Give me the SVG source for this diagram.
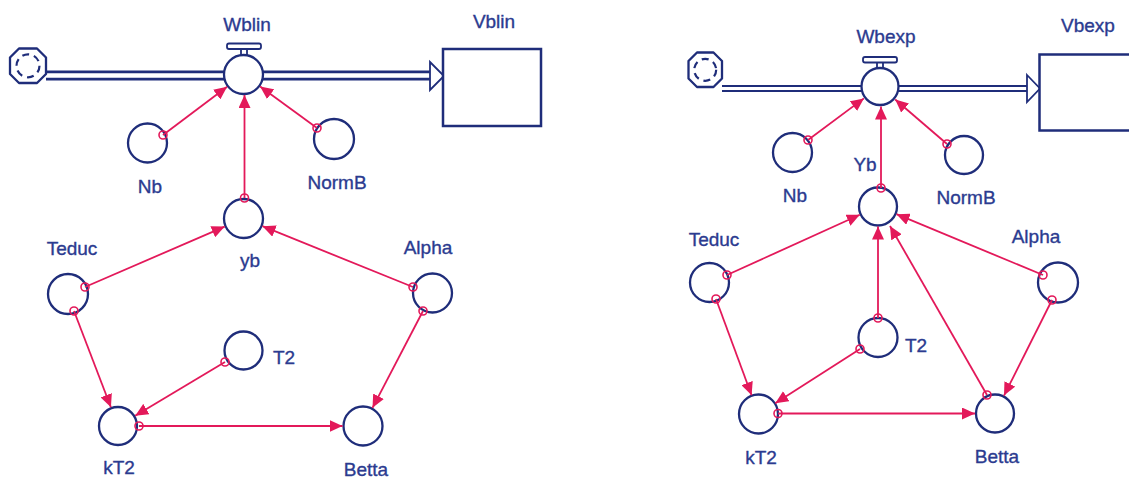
<svg xmlns="http://www.w3.org/2000/svg" width="1129" height="480" viewBox="0 0 1129 480">
<style>
.n{fill:#fff;stroke:#1f2d7a;stroke-width:2.3}
.t{font-family:"Liberation Sans",Arial,sans-serif;font-size:19px;fill:#2b3b90;stroke:#2b3b90;stroke-width:0.35;text-anchor:middle}
.tl{text-anchor:start}
.l{fill:none;stroke:#e3195a;stroke-width:1.8}
.o{fill:none;stroke:#e3195a;stroke-width:1.6}
.po{fill:none;stroke:#1f2d7a}
.pi{fill:none;stroke:#fff}
.bx{fill:#fff;stroke:#1f2d7a;stroke-width:2.5}
.hd{fill:#fff;stroke:#1f2d7a;stroke-width:1.8}
.cl{fill:#fff;stroke:#1f2d7a;stroke-width:2.3}
.cd{fill:none;stroke:#1f2d7a;stroke-width:2.2;stroke-dasharray:7 5}
</style>
<defs>
<marker id="ah" markerUnits="userSpaceOnUse" markerWidth="14" markerHeight="12" refX="13" refY="6" orient="auto">
<path d="M0,0 L13,6 L0,12 z" fill="#e3195a"/>
</marker>
</defs>

<!-- LEFT: flow pipe -->
<g id="pipe1">
<path class="po" stroke-width="10" d="M46,75.5 H431"/>
<path class="pi" stroke-width="4.5" d="M44,75.5 H431"/>
<path class="hd" d="M430,62 L444,76 L430,90 z"/>
</g>
<g id="cloud1">
<path class="cl" d="M19,48.5 H37 L46,57.5 V74 L37,83 H19 L10,74 V57.5 z" stroke-linejoin="round"/>
<circle class="cd" cx="28" cy="65.8" r="11.5"/>
</g>
<g id="Vblin">
<rect class="bx" x="443" y="49" width="98" height="77"/>
<text class="t" x="494" y="28">Vblin</text>
</g>
<g id="Wblin">
<rect class="hd" x="241" y="48" width="6" height="7"/>
<rect class="hd" x="227" y="43.5" width="34" height="5.5" rx="2"/>
<circle class="n" cx="243.5" cy="74.5" r="19.5"/>
<text class="t" x="247" y="31">Wblin</text>
</g>
<g id="Nb1"><circle class="n" cx="147.5" cy="143" r="19.5"/><text class="t" x="150" y="193">Nb</text></g>
<g id="NormB1"><circle class="n" cx="334" cy="139" r="20"/><text class="t" x="337" y="189">NormB</text></g>
<g id="yb1"><circle class="n" cx="243.5" cy="218.5" r="19.5"/><text class="t" x="250" y="267">yb</text></g>
<g id="Teduc1"><circle class="n" cx="68" cy="294" r="20"/><text class="t" x="72" y="255">Teduc</text></g>
<g id="Alpha1"><circle class="n" cx="432.5" cy="293" r="19.5"/><text class="t" x="428" y="254">Alpha</text></g>
<g id="T21"><circle class="n" cx="243.5" cy="350.5" r="19"/><text class="t tl" x="273" y="364">T2</text></g>
<g id="kT21"><circle class="n" cx="118" cy="426" r="19"/><text class="t" x="119" y="474">kT2</text></g>
<g id="Betta1"><circle class="n" cx="363" cy="426" r="19.5"/><text class="t" x="366" y="476">Betta</text></g>

<!-- RIGHT: flow pipe -->
<g id="pipe2">
<path class="po" stroke-width="7" d="M722,88.5 H1028"/>
<path class="pi" stroke-width="2.8" d="M720,88.5 H1028"/>
<path class="hd" d="M1027,75 L1040,88.5 L1027,102 z"/>
</g>
<g id="cloud2">
<path class="cl" d="M697,52.5 H713.5 L722,61 V78.5 L713.5,87 H697 L688.5,78.5 V61 z" stroke-linejoin="round"/>
<circle class="cd" cx="705.2" cy="69.8" r="11"/>
</g>
<g id="Vbexp">
<rect class="bx" x="1039.5" y="54.5" width="100" height="76"/>
<text class="t" x="1088" y="32">Vbexp</text>
</g>
<g id="Wbexp">
<rect class="hd" x="877" y="62" width="6" height="6"/>
<rect class="hd" x="863" y="57" width="34" height="5.5" rx="2"/>
<circle class="n" cx="880" cy="86.5" r="18.5"/>
<text class="t" x="886" y="43">Wbexp</text>
</g>
<g id="Nb2"><circle class="n" cx="792.5" cy="152.5" r="19.5"/><text class="t" x="795" y="202">Nb</text></g>
<g id="NormB2"><circle class="n" cx="964" cy="155" r="19"/><text class="t" x="966" y="204">NormB</text></g>
<g id="Yb2"><circle class="n" cx="878" cy="206.5" r="19"/><text class="t" x="865" y="171">Yb</text></g>
<g id="Teduc2"><circle class="n" cx="709.5" cy="282.5" r="19.5"/><text class="t" x="714" y="246">Teduc</text></g>
<g id="Alpha2"><circle class="n" cx="1058" cy="282.5" r="20"/><text class="t" x="1036" y="243">Alpha</text></g>
<g id="T22"><circle class="n" cx="878" cy="337.5" r="19.5"/><text class="t tl" x="905" y="352">T2</text></g>
<g id="kT22"><circle class="n" cx="758.5" cy="414" r="19.5"/><text class="t" x="761" y="464">kT2</text></g>
<g id="Betta2"><circle class="n" cx="995" cy="413.5" r="19"/><text class="t" x="997" y="463">Betta</text></g>

<g id="connectors">
<!-- left -->
<path class="l" marker-end="url(#ah)" d="M163,135 L227.1,86.8"/>
<path class="l" marker-end="url(#ah)" d="M317,128 L260.1,86.6"/>
<path class="l" marker-end="url(#ah)" d="M244.5,198 L244.5,95"/>
<path class="l" marker-end="url(#ah)" d="M85,287 L224.7,226.6"/>
<path class="l" marker-end="url(#ah)" d="M413,287 L262.5,226.2"/>
<path class="l" marker-end="url(#ah)" d="M74,311 L110.9,407.3"/>
<path class="l" marker-end="url(#ah)" d="M225,362 L135.2,415.7"/>
<path class="l" marker-end="url(#ah)" d="M139,426 L342.5,426"/>
<path class="l" marker-end="url(#ah)" d="M423,311 L372.5,407.8"/>
<circle class="o" cx="163" cy="135" r="4"/>
<circle class="o" cx="317" cy="128" r="4"/>
<circle class="o" cx="244.5" cy="198" r="4"/>
<circle class="o" cx="85" cy="287" r="4"/>
<circle class="o" cx="413" cy="287" r="4"/>
<circle class="o" cx="74" cy="311" r="4"/>
<circle class="o" cx="225" cy="362" r="4"/>
<circle class="o" cx="139" cy="426" r="4"/>
<circle class="o" cx="423" cy="311" r="4"/>
<!-- right -->
<path class="l" marker-end="url(#ah)" d="M808,140 L863.9,98.4"/>
<path class="l" marker-end="url(#ah)" d="M947,144 L895.2,99.5"/>
<path class="l" marker-end="url(#ah)" d="M881,188 L881,106.5"/>
<path class="l" marker-end="url(#ah)" d="M727,275 L859.8,214.8"/>
<path class="l" marker-end="url(#ah)" d="M1043,275 L896.5,214.2"/>
<path class="l" marker-end="url(#ah)" d="M878,318 L878,226.5"/>
<path class="l" marker-end="url(#ah)" d="M987,395 L890,226"/>
<path class="l" marker-end="url(#ah)" d="M716,299 L751.6,395.2"/>
<path class="l" marker-end="url(#ah)" d="M860,349 L775.3,403.2"/>
<path class="l" marker-end="url(#ah)" d="M778,413.5 L975,413.5"/>
<path class="l" marker-end="url(#ah)" d="M1052,300 L1004,395.6"/>
<circle class="o" cx="808" cy="140" r="4"/>
<circle class="o" cx="947" cy="144" r="4"/>
<circle class="o" cx="881" cy="188" r="4"/>
<circle class="o" cx="727" cy="275" r="4"/>
<circle class="o" cx="1043" cy="275" r="4"/>
<circle class="o" cx="878" cy="318" r="4"/>
<circle class="o" cx="987" cy="395" r="4"/>
<circle class="o" cx="716" cy="299" r="4"/>
<circle class="o" cx="860" cy="349" r="4"/>
<circle class="o" cx="778" cy="413.5" r="4"/>
<circle class="o" cx="1052" cy="300" r="4"/>
</g>
</svg>
